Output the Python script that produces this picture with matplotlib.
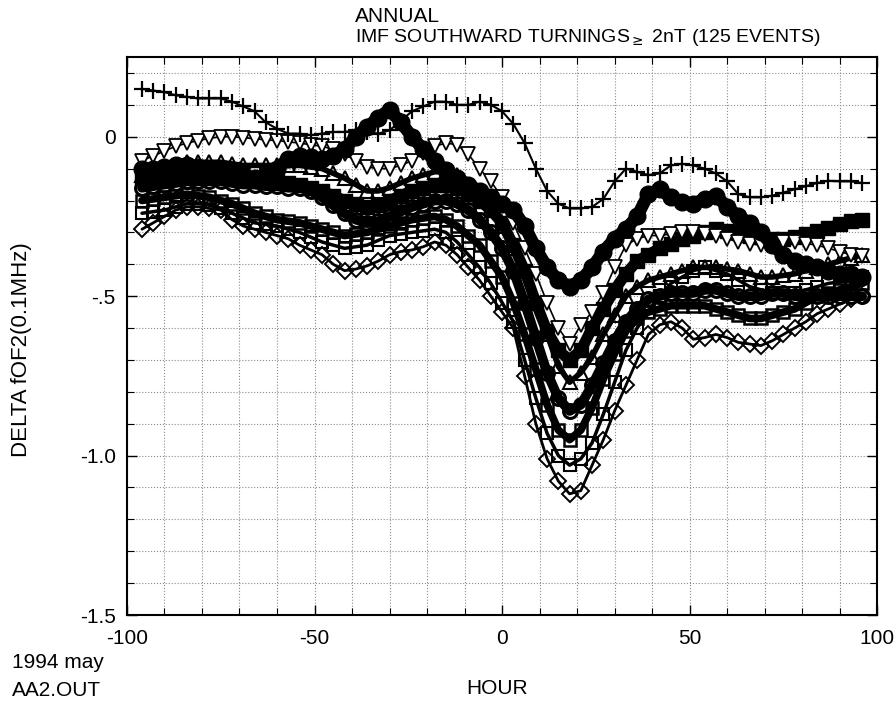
import numpy as np
import matplotlib
matplotlib.use("Agg")
import matplotlib.pyplot as plt
from matplotlib.ticker import MultipleLocator

plt.rcParams['font.family'] = ['Liberation Sans', 'DejaVu Sans']

hours = np.arange(-96, 97, 3)

plus_vals = [0.15,0.145,0.14,0.13,0.125,0.12,0.12,0.12,0.11,0.095,
             0.08,0.045,0.025,0.01,0.01,0.005,0.01,0.015,0.015,0.02,
             0.015,0.01,0.02,0.05,0.08,0.095,0.11,0.11,0.1,0.1,
             0.11,0.1,0.08,0.04,-0.02,-0.1,-0.17,-0.21,-0.225,-0.225,
             -0.22,-0.195,-0.14,-0.1,-0.11,-0.12,-0.115,-0.09,-0.085,-0.09,
             -0.1,-0.115,-0.14,-0.18,-0.19,-0.19,-0.185,-0.175,-0.165,-0.155,
             -0.145,-0.138,-0.14,-0.14,-0.145]

circ_f_vals = [-0.1,-0.1,-0.095,-0.09,-0.09,-0.095,-0.1,-0.105,-0.11,-0.12,
               -0.13,-0.12,-0.1,-0.07,-0.06,-0.065,-0.07,-0.06,-0.04,0.0,
               0.03,0.06,0.085,0.045,0.0,-0.04,-0.075,-0.105,-0.13,-0.15,
               -0.17,-0.19,-0.21,-0.23,-0.28,-0.35,-0.41,-0.45,-0.47,-0.45,
               -0.41,-0.36,-0.32,-0.29,-0.25,-0.18,-0.165,-0.19,-0.205,-0.21,
               -0.195,-0.185,-0.22,-0.25,-0.27,-0.3,-0.34,-0.37,-0.39,-0.4,
               -0.41,-0.42,-0.43,-0.43,-0.44]

tri_v_vals = [-0.075,-0.06,-0.045,-0.03,-0.02,-0.012,-0.005,0.0,0.0,-0.003,
              -0.006,-0.01,-0.012,-0.016,-0.02,-0.025,-0.03,-0.04,-0.055,-0.075,
              -0.095,-0.1,-0.1,-0.09,-0.075,-0.05,-0.03,-0.02,-0.025,-0.055,
              -0.1,-0.14,-0.19,-0.27,-0.35,-0.43,-0.52,-0.6,-0.65,-0.59,
              -0.55,-0.49,-0.41,-0.34,-0.32,-0.31,-0.31,-0.305,-0.3,-0.3,
              -0.305,-0.31,-0.32,-0.33,-0.335,-0.34,-0.335,-0.33,-0.33,-0.335,
              -0.34,-0.35,-0.36,-0.37,-0.375]

sq_f_vals = [-0.13,-0.125,-0.12,-0.115,-0.11,-0.11,-0.115,-0.12,-0.12,-0.125,
             -0.13,-0.135,-0.14,-0.145,-0.15,-0.16,-0.17,-0.185,-0.2,-0.21,
             -0.22,-0.215,-0.2,-0.185,-0.17,-0.16,-0.15,-0.15,-0.16,-0.18,
             -0.2,-0.23,-0.27,-0.34,-0.42,-0.52,-0.61,-0.67,-0.7,-0.67,
             -0.6,-0.54,-0.48,-0.43,-0.39,-0.37,-0.35,-0.335,-0.32,-0.31,
             -0.3,-0.29,-0.295,-0.3,-0.31,-0.315,-0.32,-0.32,-0.315,-0.305,
             -0.295,-0.285,-0.275,-0.265,-0.26]

tri_up_vals = [-0.12,-0.11,-0.1,-0.09,-0.08,-0.08,-0.08,-0.08,-0.085,-0.09,
               -0.09,-0.09,-0.09,-0.09,-0.09,-0.095,-0.1,-0.115,-0.13,-0.15,
               -0.17,-0.17,-0.16,-0.145,-0.13,-0.12,-0.11,-0.11,-0.12,-0.15,
               -0.18,-0.22,-0.28,-0.35,-0.42,-0.52,-0.62,-0.72,-0.77,-0.74,
               -0.69,-0.62,-0.56,-0.5,-0.47,-0.45,-0.44,-0.43,-0.42,-0.41,
               -0.41,-0.41,-0.415,-0.42,-0.43,-0.44,-0.44,-0.435,-0.43,-0.42,
               -0.41,-0.4,-0.39,-0.38,-0.37]

circ_o_vals = [-0.16,-0.155,-0.15,-0.145,-0.14,-0.14,-0.14,-0.14,-0.145,-0.15,
               -0.15,-0.155,-0.155,-0.16,-0.16,-0.17,-0.19,-0.215,-0.24,-0.26,
               -0.27,-0.265,-0.25,-0.235,-0.22,-0.21,-0.2,-0.2,-0.21,-0.23,
               -0.26,-0.3,-0.35,-0.42,-0.52,-0.63,-0.74,-0.82,-0.86,-0.84,
               -0.78,-0.71,-0.64,-0.58,-0.54,-0.51,-0.5,-0.49,-0.49,-0.49,
               -0.48,-0.48,-0.49,-0.5,-0.5,-0.5,-0.49,-0.49,-0.5,-0.5,
               -0.5,-0.5,-0.5,-0.5,-0.5]

sq_x_vals = [-0.2,-0.195,-0.19,-0.185,-0.18,-0.185,-0.19,-0.2,-0.21,-0.225,
             -0.24,-0.25,-0.26,-0.265,-0.27,-0.28,-0.29,-0.3,-0.31,-0.305,
             -0.3,-0.29,-0.28,-0.27,-0.26,-0.255,-0.25,-0.26,-0.28,-0.31,
             -0.34,-0.39,-0.44,-0.52,-0.62,-0.73,-0.84,-0.92,-0.95,-0.92,
             -0.85,-0.76,-0.68,-0.61,-0.57,-0.55,-0.54,-0.53,-0.53,-0.53,
             -0.53,-0.54,-0.55,-0.56,-0.57,-0.57,-0.56,-0.55,-0.54,-0.52,
             -0.5,-0.49,-0.48,-0.47,-0.46]

sq_o_vals = [-0.24,-0.235,-0.23,-0.22,-0.21,-0.21,-0.215,-0.225,-0.24,-0.255,
             -0.27,-0.275,-0.28,-0.29,-0.3,-0.315,-0.33,-0.34,-0.35,-0.345,
             -0.34,-0.325,-0.31,-0.305,-0.3,-0.295,-0.29,-0.3,-0.33,-0.37,
             -0.41,-0.46,-0.52,-0.58,-0.7,-0.82,-0.93,-1.0,-1.03,-1.01,
             -0.96,-0.87,-0.77,-0.67,-0.6,-0.55,-0.5,-0.46,-0.44,-0.42,
             -0.41,-0.42,-0.43,-0.45,-0.47,-0.48,-0.49,-0.49,-0.49,-0.48,
             -0.47,-0.46,-0.455,-0.45,-0.44]

dia_vals = [-0.29,-0.27,-0.25,-0.23,-0.22,-0.22,-0.225,-0.23,-0.26,-0.28,
            -0.29,-0.3,-0.31,-0.32,-0.34,-0.355,-0.37,-0.4,-0.42,-0.415,
            -0.405,-0.39,-0.37,-0.36,-0.355,-0.345,-0.33,-0.34,-0.37,-0.41,
            -0.45,-0.5,-0.55,-0.6,-0.75,-0.9,-1.01,-1.08,-1.12,-1.11,
            -1.03,-0.95,-0.86,-0.78,-0.7,-0.62,-0.59,-0.58,-0.6,-0.635,
            -0.63,-0.62,-0.63,-0.645,-0.65,-0.655,-0.64,-0.62,-0.6,-0.58,
            -0.555,-0.54,-0.525,-0.51,-0.5]

x_ticks = [-100, -50, 0, 50, 100]
x_ticklabels = ['-100', '-50', '0', '50', '100']
y_ticks = [0, -0.5, -1.0, -1.5]
y_ticklabels = ['0', '-.5', '-1.0', '-1.5']

fig = plt.figure(figsize=(8.96, 7.04), dpi=100)
ax = fig.add_axes([0.1417, 0.1264, 0.8373, 0.7926])

series = [
    (dia_vals,    dict(marker='D', ms=8,  mfc='none', mew=1.4, lw=2.0)),
    (sq_o_vals,   dict(marker='s', ms=9,  mfc='none', mew=1.5, lw=2.5)),
    (sq_x_vals,   dict(marker='s', ms=8,  mfc='none', mew=1.8, lw=5.5)),
    (circ_o_vals, dict(marker='o', ms=10, mfc='none', mew=2.2, lw=7.0)),
    (tri_up_vals, dict(marker='^', ms=10, mfc='none', mew=1.5, lw=4.0)),
    (sq_f_vals,   dict(marker='s', ms=10, mfc='black', mew=1.0, lw=8.0)),
    (tri_v_vals,  dict(marker='v', ms=10, mfc='white', mew=1.3, lw=1.2)),
    (circ_f_vals, dict(marker='o', ms=12, mfc='black', mew=1.0, lw=9.0)),
    (plus_vals,   dict(marker='+', ms=12, mew=1.6, lw=1.5)),
]
for vals, st in series:
    ax.plot(hours, vals, color='black', mec='black',
            solid_capstyle='round', solid_joinstyle='round', **st)

ax.set_xlim(-100, 100)
ax.set_ylim(-1.5, 0.25)
ax.set_xticks(x_ticks)
ax.set_xticklabels(x_ticklabels)
ax.set_yticks(y_ticks)
ax.set_yticklabels(y_ticklabels)
ax.xaxis.set_minor_locator(MultipleLocator(10))
ax.yaxis.set_minor_locator(MultipleLocator(0.1))
ax.tick_params(which='both', direction='in', top=True, right=True, labelsize=15)
ax.tick_params(axis='x', which='both', pad=10)
ax.tick_params(axis='y', which='both', pad=8)
ax.tick_params(which='major', length=7, width=1.0)
ax.tick_params(which='minor', length=5, width=0.8)
ax.grid(which='both', linestyle=':', color='0.55', lw=0.8)
for s in ax.spines.values():
    s.set_linewidth(1.5)

ax.set_ylabel('DELTA fOF2(0.1MHz)', fontsize=16)
ax.yaxis.set_label_coords(-0.127, 0.475)

fig.text(355/896, 1 - 16/704, 'ANNUAL', fontsize=15, ha='left', va='center')
fig.text(355/896, 1 - 38/704, 'IMF SOUTHWARD TURNINGS$_{\\geq}$ 2nT (125 EVENTS)',
         fontsize=14, ha='left', va='center')
fig.text(497/896, 1 - 688/704, 'HOUR', fontsize=15, ha='center', va='center')
fig.text(12/896, 1 - 663/704, '1994 may', fontsize=15, ha='left', va='center')
fig.text(12/896, 1 - 690/704, 'AA2.OUT', fontsize=15, ha='left', va='center')

fig.savefig('out.png', dpi=100)
